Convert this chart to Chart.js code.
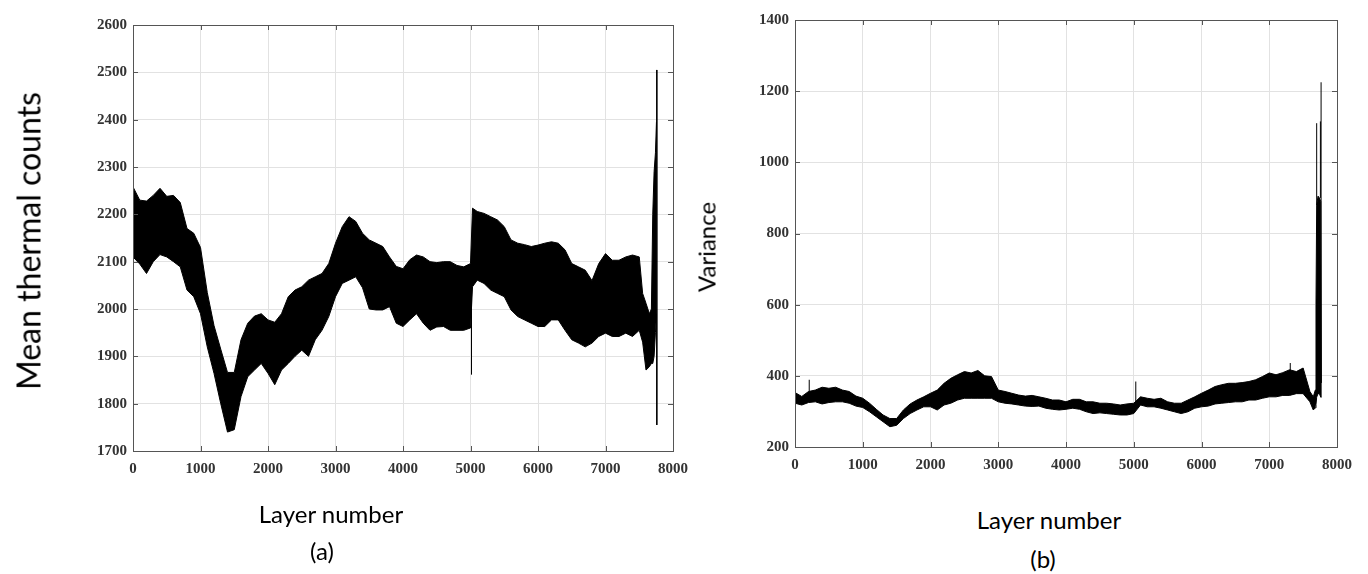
<!DOCTYPE html>
<html>
<head>
<meta charset="utf-8">
<script src="https://cdn.jsdelivr.net/npm/chart.js@4/dist/chart.umd.min.js"></script>
<style>
  body { margin: 0; background: #fff; width: 1368px; height: 574px; position: relative; overflow: hidden; }
  .box { position: absolute; }
  .lbl { position: absolute; font-family: Lato, "Open Sans", sans-serif; font-size: 24px; color: #000; white-space: nowrap; transform: translate(-50%, -50%); }
  .rot { transform: translate(-50%, -50%) rotate(-90deg); }
</style>
</head>
<body>
<div class="box" style="left:0;top:0;width:700px;height:500px"><canvas id="chartA"></canvas></div>
<div class="box" style="left:700px;top:0;width:668px;height:500px"><canvas id="chartB"></canvas></div>

<div class="lbl rot" style="left:28px;top:241px;font-size:32px">Mean thermal counts</div>
<div class="lbl" style="left:331px;top:513px">Layer number</div>
<div class="lbl" style="left:322px;top:550px">(a)</div>

<div class="lbl rot" style="left:706px;top:247px">Variance</div>
<div class="lbl" style="left:1049px;top:519px">Layer number</div>
<div class="lbl" style="left:1043px;top:558px">(b)</div>

<script>
// (a) mean thermal counts: upper / lower edge of the noisy band
const layersA = [0,100,200,300,400,500,600,700,800,900,1000,1100,1200,1300,1400,1500,1600,1700,1800,1900,
  2000,2100,2200,2300,2400,2500,2600,2700,2800,2900,3000,3100,3200,3300,3400,3500,3600,3700,3800,3900,
  4000,4100,4200,4300,4400,4500,4600,4700,4800,4900,5000,5030,5100,5200,5300,5400,5500,5600,5700,5800,
  5900,6000,6100,6200,6300,6400,6500,6600,6700,6800,6900,7000,7100,7200,7300,7400,7500,7550,7600,7650,
  7680,7700,7720,7740,7755];
const upperA = [2258,2230,2228,2240,2255,2238,2240,2225,2170,2160,2130,2035,1965,1915,1866,1866,1935,1970,1985,1990,
  1977,1972,1990,2026,2040,2047,2061,2068,2075,2096,2139,2174,2195,2185,2160,2146,2139,2132,2110,2090,
  2085,2104,2114,2110,2100,2098,2100,2100,2092,2089,2096,2213,2206,2202,2195,2188,2174,2146,2139,2136,
  2132,2135,2139,2142,2139,2125,2096,2089,2082,2060,2096,2117,2103,2103,2110,2114,2110,2033,2012,1990,
  2000,2200,2290,2330,2395];
const lowerA = [2110,2095,2075,2100,2115,2110,2100,2089,2040,2026,1990,1920,1864,1800,1740,1745,1815,1857,1871,1885,
  1864,1840,1871,1885,1900,1913,1900,1935,1955,1984,2026,2054,2061,2068,2045,2000,1998,1998,2005,1970,
  1963,1977,1990,1970,1955,1962,1963,1955,1955,1955,1960,2047,2061,2054,2040,2033,2026,1998,1984,1977,
  1970,1963,1963,1977,1977,1955,1935,1928,1920,1928,1942,1949,1942,1942,1949,1942,1955,1930,1871,1878,
  1885,1885,1900,1950,1990];
// single-layer spikes: [layer, from, to]
const spikesA = [[5015, 2080, 1862], [7760, 2505, 1755]];

// (b) variance
const layersB = [0,100,200,300,400,500,600,700,800,900,1000,1100,1200,1300,1400,1500,1600,1700,1800,1900,
  2000,2100,2200,2300,2400,2500,2600,2700,2800,2900,3000,3100,3200,3300,3400,3500,3600,3700,3800,3900,
  4000,4100,4200,4300,4400,4500,4600,4700,4800,4900,5000,5100,5200,5300,5400,5500,5600,5700,5800,5900,
  6000,6100,6200,6300,6400,6500,6600,6700,6800,6900,7000,7100,7200,7300,7400,7500,7600,
  7650,7680,7690,7700,7720,7740,7760,7770];
const upperB = [353,342,356,360,368,365,368,360,356,343,337,323,306,290,280,280,304,321,332,341,
  351,360,379,393,403,412,408,415,400,398,360,356,351,346,343,345,341,337,332,332,
  327,334,334,327,327,323,323,321,318,321,323,341,337,334,337,327,323,323,332,341,
  351,360,370,375,379,379,381,384,389,398,408,403,409,417,412,422,356,
  341,360,600,880,905,900,890,380];
const lowerB = [323,318,325,327,321,325,327,327,323,315,311,299,285,271,257,261,280,294,304,313,
  313,304,318,323,332,337,337,337,337,337,327,323,321,318,315,314,315,309,306,304,
  306,309,306,299,294,296,294,292,290,290,294,318,313,313,309,304,299,294,299,309,
  313,315,321,323,325,327,327,332,332,337,341,341,345,345,350,350,327,
  304,310,320,340,350,350,340,340];
const spikesB = [[210, 330, 389], [5030, 320, 384], [7310, 400, 436], [7700, 880, 1110], [7755, 900, 1115], [7765, 340, 1225]];

function pts(xs, ys) {
  return xs.map((x, i) => ({ x: x, y: ys[i] }));
}

function spikePts(list) {
  const out = [];
  list.forEach((s) => {
    out.push({ x: s[0], y: s[1] }, { x: s[0], y: s[2] }, { x: s[0], y: null });
  });
  return out;
}

// MATLAB style box with inward ticks on all four sides
const boxPlugin = {
  id: "matlabBox",
  afterDatasetsDraw(chart) {
    const { ctx, chartArea: a, scales } = chart;
    ctx.save();
    ctx.strokeStyle = "#555";
    ctx.lineWidth = 1;
    ctx.strokeRect(a.left + 0.5, a.top + 0.5, a.right - a.left, a.bottom - a.top);
    ctx.beginPath();
    scales.x.ticks.forEach((t) => {
      const px = Math.round(scales.x.getPixelForValue(t.value)) + 0.5;
      ctx.moveTo(px, a.bottom); ctx.lineTo(px, a.bottom - 5);
      ctx.moveTo(px, a.top); ctx.lineTo(px, a.top + 5);
    });
    scales.y.ticks.forEach((t) => {
      const py = Math.round(scales.y.getPixelForValue(t.value)) + 0.5;
      ctx.moveTo(a.left, py); ctx.lineTo(a.left + 5, py);
      ctx.moveTo(a.right, py); ctx.lineTo(a.right - 5, py);
    });
    ctx.stroke();
    ctx.restore();
  },
};

const tickFont = { family: "'Liberation Serif', 'Times New Roman', serif", size: 15, weight: "bold" };

function makeChart(id, xs, up, lo, spikes, yMin, yMax, yStep, pad, yWidth, xHeight) {
  return new Chart(document.getElementById(id).getContext("2d"), {
    type: "line",
    data: {
      datasets: [
        {
          data: pts(xs, up),
          borderColor: "#000",
          backgroundColor: "#000",
          borderWidth: 1,
          pointRadius: 0,
          fill: "+1",
          tension: 0,
        },
        {
          data: pts(xs, lo),
          borderColor: "#000",
          borderWidth: 1,
          pointRadius: 0,
          fill: false,
          tension: 0,
        },
        {
          data: spikePts(spikes),
          borderColor: "#000",
          borderWidth: 1,
          pointRadius: 0,
          fill: false,
          spanGaps: false,
        },
      ],
    },
    options: {
      responsive: false,
      animation: false,
      layout: { padding: pad },
      plugins: { legend: { display: false }, tooltip: { enabled: false } },
      scales: {
        x: {
          type: "linear",
          min: 0,
          max: 8000,
          grid: { color: "#e2e2e2", drawTicks: false },
          border: { display: false },
          ticks: { stepSize: 1000, padding: 9, color: "#333", font: tickFont, maxRotation: 0, callback: (v) => String(v) },
          afterFit: (s) => { s.height = xHeight; },
        },
        y: {
          min: yMin,
          max: yMax,
          grid: { color: "#e2e2e2", drawTicks: false },
          border: { display: false },
          ticks: { stepSize: yStep, padding: 6, color: "#333", font: tickFont, callback: (v) => String(v) },
          afterFit: (s) => { s.width = yWidth; },
        },
      },
    },
    plugins: [boxPlugin],
  });
}

const cA = document.getElementById("chartA");
cA.width = 700; cA.height = 500;
const cB = document.getElementById("chartB");
cB.width = 668; cB.height = 500;

makeChart("chartA", layersA, upperA, lowerA, spikesA, 1700, 2600, 100,
  { left: 0, top: 25, right: 27, bottom: 0 }, 133, 49);
makeChart("chartB", layersB, upperB, lowerB, spikesB, 200, 1400, 200,
  { left: 0, top: 20, right: 31, bottom: 0 }, 95, 53);
</script>
</body>
</html>
